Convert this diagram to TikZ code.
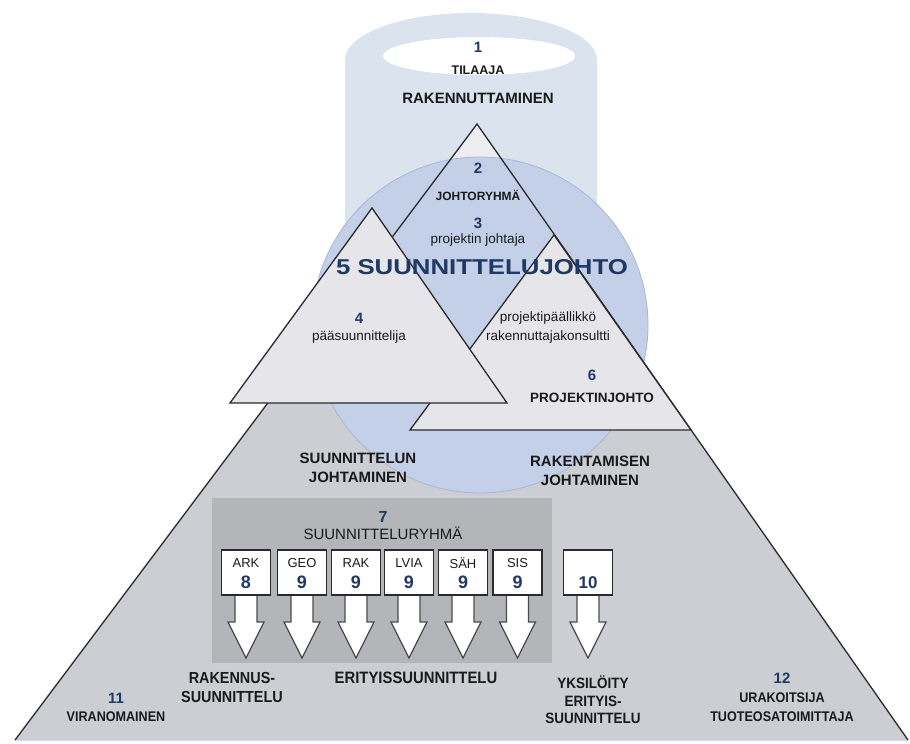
\documentclass[tikz,border=0pt]{standalone}
\usepackage{fontspec}
\setmainfont{Liberation Sans}
\newfontfamily\condf[FakeStretch=0.9]{Liberation Sans}
\newfontfamily\widef[FakeStretch=1.2]{Liberation Sans}
\definecolor{cylc}{HTML}{DBE3EF}
\definecolor{circc}{HTML}{C3D0E7}
\definecolor{circl}{HTML}{A7B8D6}
\definecolor{bigc}{HTML}{CCCED3}
\definecolor{capc}{HTML}{ECEEF2}
\definecolor{tric}{HTML}{E6E5E9}
\definecolor{rectc}{HTML}{B3B5B9}
\definecolor{linec}{HTML}{2A2A2E}
\definecolor{navy}{HTML}{1F3864}
\definecolor{txt}{HTML}{1A1A1A}
\begin{document}
\begin{tikzpicture}[x=1pt,y=-1pt,
  edge/.style={draw=linec,line width=1.3pt,line join=miter},
  lbl/.style={inner sep=0pt,text=txt,align=center},
  num/.style={lbl,text=navy,font=\bfseries\fontsize{15}{17}\selectfont},
  bl/.style={lbl,font=\bfseries\fontsize{#1}{19}\selectfont},
  bl/.default=15,
  rg/.style={lbl,font=\fontsize{#1}{19}\selectfont},
  rg/.default=13.5,
  cb/.style={lbl,font=\condf\bfseries\fontsize{#1}{19}\selectfont},
  cb/.default=15,
  arr/.style={fill=white,draw=linec!85,line width=1.2pt,line join=miter},
  box/.style={draw=linec,fill=white,line width=1.2pt,minimum width=49pt,minimum height=45pt,inner sep=0pt},
  boxlab/.style={lbl,font=\fontsize{13}{15}\selectfont},
  boxnum/.style={lbl,text=navy,font=\bfseries\fontsize{18}{20}\selectfont}
]
\useasboundingbox (0,0) rectangle (910,744);
\fill[white] (0,0) rectangle (910,744);
% cylinder
\fill[cylc] (471,60) ellipse[x radius=126pt,y radius=47pt];
\fill[cylc] (345,60) rectangle (597,300);
\fill[white] (479,56) ellipse[x radius=96pt,y radius=19pt];
% big triangle
\fill[bigc] (477,124) -- (15,740) -- (908,740) -- cycle;
\fill[capc] (477,124) -- (420,200) -- (530,200) -- cycle;
\draw[circc!80!white,line width=1.5pt] (15,740.5) -- (908,740.5);
% circle
\filldraw[fill=circc,draw=circl,line width=0.8pt] (480,325) circle[radius=168pt];
% big triangle edges
\draw[edge] (15,740) -- (477,124) -- (908,740);
% triangle 6
\filldraw[edge,fill=tric] (554,235) -- (410,430) -- (691,430) -- cycle;
% triangle 4
\filldraw[edge,fill=tric] (372,208) -- (230,403) -- (507,403) -- cycle;
% design group rectangle
\fill[rectc] (212,498) rectangle (552,663);
% boxes and arrows
\foreach \cx/\lab/\nm [count=\i] in {246/ARK/8,302/GEO/9,356/RAK/9,409/LVIA/9,463/SÄH/9,517.5/SIS/9}{
  \filldraw[arr] (\cx-11,594) -- (\cx-11,622) -- (\cx-18,622) -- (\cx,658) -- (\cx+18,622) -- (\cx+11,622) -- (\cx+11,594);
  \node[box] (box\i) at (\cx,572.5) {};
  \node[boxlab] (lab\i) at (\cx,563) {\lab};
  \node[boxnum] (num\i) at (\cx,582) {\nm};
}
\filldraw[arr] (577,594) -- (577,622) -- (570,622) -- (588,658) -- (606,622) -- (599,622) -- (599,594);
\node[box] (box10) at (588,572.5) {};
\node[boxnum,font=\bfseries\fontsize{17}{19}\selectfont] (num10) at (588,583) {10};
% texts
\node[num] (n1) at (478,47) {1};
\node[bl=12.5] (tilaaja) at (478,70) {TILAAJA};
\node[bl=15] (raknut) at (478,98) {RAKENNUTTAMINEN};
\node[num] (n2) at (478,168) {2};
\node[bl=12] (johtor) at (478,195) {JOHTORYHMÄ};
\node[num] (n3) at (478,223) {3};
\node[rg] (projj) at (478,240) {projektin johtaja};
\node[lbl,text=navy,font=\widef\bfseries\fontsize{21.5}{24}\selectfont] (sj) at (482,267) {5 SUUNNITTELUJOHTO};
\node[num] (n4) at (359,318) {4};
\node[rg] (paasu) at (359,337) {pääsuunnittelija};
\node[rg] (projp) at (548,327.5) {projektipäällikkö\\rakennuttajakonsultti};
\node[num] (n6) at (592,375) {6};
\node[bl=13.5] (projjoht) at (592,398) {PROJEKTINJOHTO};
\node[bl=15] (sunjoh) at (358,467.5) {SUUNNITTELUN\\JOHTAMINEN};
\node[bl=15] (rakjoh) at (590,471) {RAKENTAMISEN\\JOHTAMINEN};
\node[num,font=\bfseries\fontsize{16}{18}\selectfont] (n7) at (383,517) {7};
\node[rg=15] (sryhma) at (383,533) {SUUNNITTELURYHMÄ};
\node[cb=16] (rsuun) at (232,687.5) {RAKENNUS-\\SUUNNITTELU};
\node[cb=16.5] (erit) at (416,678) {ERITYISSUUNNITTELU};
\node[lbl,font=\condf\bfseries\fontsize{15}{17.5}\selectfont] (yks) at (593,700) {YKSILÖITY\\ERITYIS-\\SUUNNITTELU};
\node[num] (n11) at (116,698) {11};
\node[cb=14] (viran) at (116,717) {VIRANOMAINEN};
\node[num] (n12) at (782,678) {12};
\node[cb=14] (urak) at (782,707.5) {URAKOITSIJA\\TUOTEOSATOIMITTAJA};
\end{tikzpicture}
\end{document}
